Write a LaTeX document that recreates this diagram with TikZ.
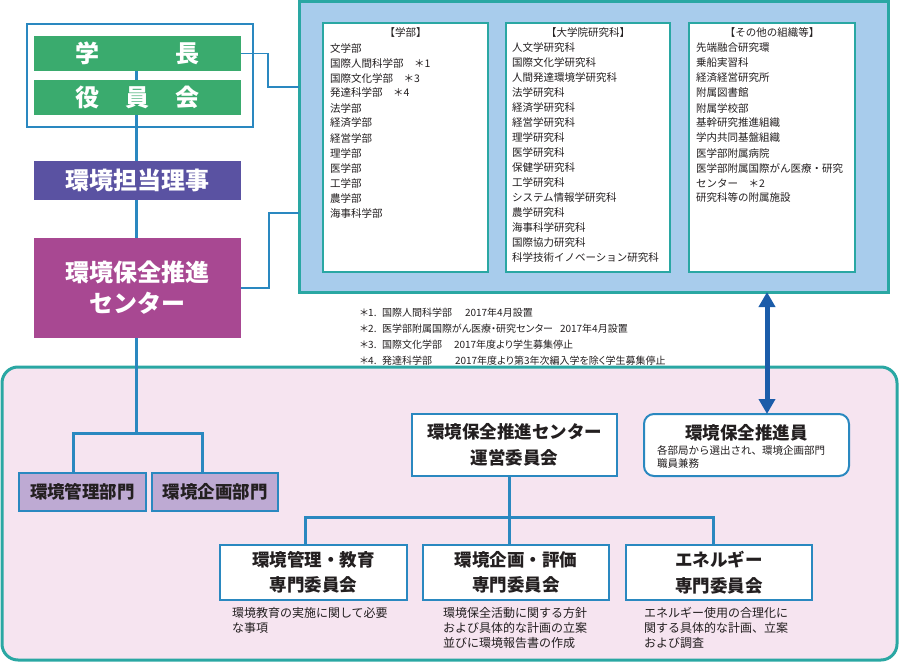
\documentclass[tikz,border=0pt]{standalone}
\usepackage{fontspec}
\setmainfont{Noto Sans CJK JP}
\newfontfamily\jpp{Noto Sans CJK JP}[RawFeature=+palt]
\usetikzlibrary{arrows.meta}
\definecolor{gr}{HTML}{3AAB6E}
\definecolor{pu}{HTML}{5A52A2}
\definecolor{mg}{HTML}{A84892}
\definecolor{lav}{HTML}{BEAAD3}
\definecolor{lb}{HTML}{2A88C0}
\definecolor{tl}{HTML}{2AA7A3}
\definecolor{pan}{HTML}{A8CCEC}
\definecolor{pk}{HTML}{F6E4F0}
\definecolor{ab}{HTML}{1B5CA9}
\definecolor{tx}{HTML}{231F20}
\begin{document}
\begin{tikzpicture}[x=1pt,y=-1pt,
  every node/.style={inner sep=0pt, outer sep=0pt, text=tx},
  trunk/.style={draw=lb, line width=3pt},
  thinline/.style={draw=lb, line width=1.5pt},
  topbox/.style={fill=#1, minimum width=207pt, text=white, align=center, font=\fontsize{24}{31}\selectfont\bfseries},
  colbox/.style={draw=tl, line width=2pt, fill=white, minimum height=249pt},
  colhead/.style={font=\fontsize{10.5}{12}\selectfont},
  item/.style={anchor=west, font=\fontsize{10.5}{12}\selectfont},
  note/.style={anchor=west, font=\jpp\fontsize{10}{12}\selectfont},
  deptbox/.style={draw=lb, line width=2pt, fill=lav, minimum height=38pt, font=\fontsize{17.5}{20}\selectfont\bfseries},
  wbox/.style={draw=lb, line width=2pt, fill=white, align=center, font=\fontsize{17.5}{25.5}\selectfont\bfseries},
  desc/.style={anchor=west, align=left, font=\fontsize{12}{15}\selectfont},
  dblarrow/.style={draw=ab, line width=5pt, >={Triangle[length=15pt,width=16pt]}, <->},
]
\useasboundingbox (0,0) rectangle (900,666);

% background regions
\node[draw=tl, line width=3pt, fill=pk, rounded corners=16pt, minimum width=895pt, minimum height=293pt] (region) at (449.5,513.5) {};
\node[draw=tl, line width=3pt, fill=pan, minimum width=589pt, minimum height=290pt] (panel) at (593.5,147) {};

% columns
\node[colbox, minimum width=165pt] (col1) at (405.5,147.5) {};
\node[colbox, minimum width=164pt] (col2) at (588,147.5) {};
\node[colbox, minimum width=166pt] (col3) at (772,147.5) {};
\node[colhead] (h1) at (405.5,33) {【学部】};
\node[colhead] (h2) at (588,33) {【大学院研究科】};
\node[colhead] (h3) at (772,33) {【その他の組織等】};
\foreach \t [count=\i] in {文学部,国際人間科学部　＊1,国際文化学部　＊3,発達科学部　＊4,法学部,経済学部,経営学部,理学部,医学部,工学部,農学部,海事科学部}
  \node[item] (a\i) at (330,33+15*\i) {\t};
\foreach \t [count=\i] in {人文学研究科,国際文化学研究科,人間発達環境学研究科,法学研究科,経済学研究科,経営学研究科,理学研究科,医学研究科,保健学研究科,工学研究科,システム情報学研究科,農学研究科,海事科学研究科,国際協力研究科,科学技術イノベーション研究科}
  \node[item] (b\i) at (512,33+15*\i) {\t};
\foreach \t [count=\i] in {先端融合研究環,乗船実習科,経済経営研究所,附属図書館,附属学校部,基幹研究推進組織,学内共同基盤組織,医学部附属病院,医学部附属国際がん医療・研究,センター　＊2,研究科等の附属施設}
  \node[item] (c\i) at (696,33+15*\i) {\t};

% notes
\node[note] (n1) at (360,313) {\makebox[22pt][l]{＊1.}\makebox[83pt][l]{国際人間科学部}2017年4月設置};
\node[note] (n2) at (360,329) {\makebox[22pt][l]{＊2.}\makebox[178pt][l]{医学部附属国際がん医療・研究センター}2017年4月設置};
\node[note] (n3) at (360,345) {\makebox[22pt][l]{＊3.}\makebox[72pt][l]{国際文化学部}2017年度より学生募集停止};
\node[note] (n4) at (360,361) {\makebox[22pt][l]{＊4.}\makebox[73pt][l]{発達科学部}2017年度より第3年次編入学を除く学生募集停止};

% top-left hierarchy
\node[draw=lb, line width=1.5pt, minimum width=226pt, minimum height=103pt] (frame) at (140,75.5) {};
\node[topbox=gr, minimum height=35pt] (gakucho) at (137.5,53.5) {学\hspace{76pt}長};
\node[topbox=gr, minimum height=35pt] (yakuin) at (137.5,97.5) {役\hspace{26pt}員\hspace{26pt}会};
\node[topbox=pu, minimum height=39pt] (riji) at (137.5,180.5) {環境担当理事};
\node[topbox=mg, minimum height=100pt] (center) at (137.5,288) {環境保全推進\\センター};

\coordinate (tx) at (136,0);
\coordinate (p1) at (268,87);
\coordinate (p2) at (269,213);
\draw[trunk] (gakucho.south -| tx) -- (yakuin.north -| tx);
\draw[trunk] (yakuin.south -| tx) -- (riji.north -| tx);
\draw[trunk] (riji.south -| tx) -- (center.north -| tx);
\draw[thinline] (gakucho.east) -| (p1) -- (p1 -| panel.west);
\draw[thinline] (center.east) -| (p2) -- (p2 -| panel.west);

% departments
\node[deptbox, minimum width=127pt] (kanri) at (82.5,492) {環境管理部門};
\node[deptbox, minimum width=126pt] (kikaku) at (215,492) {環境企画部門};
\coordinate (b0) at (136,433);
\coordinate (b1) at (73,433);
\coordinate (b3) at (202,433);
\draw[trunk] (center.south -| tx) -- (b0);
\draw[trunk] (kanri.north -| b1) -- (b1) -- (b3) -- (kikaku.north -| b3);

% committees
\node[wbox, minimum width=205pt, minimum height=62pt] (unei) at (514.5,445) {環境保全推進センター\\運営委員会};
\node[wbox, rounded corners=10pt, minimum width=205pt, minimum height=62pt] (suishin) at (746.5,445) {};
\node[font=\fontsize{17.5}{20}\selectfont\bfseries] (suishinT) at (746.5,433) {環境保全推進員};
\node[anchor=west, align=left, font=\fontsize{10.5}{13}\selectfont] (suishinS) at (657,456.5) {各部局から選出され、環境企画部門\\職員兼務};
\node[wbox, minimum width=187pt, minimum height=55pt] (com1) at (313.5,572.5) {環境管理・教育\\専門委員会};
\node[wbox, minimum width=186pt, minimum height=55pt] (com2) at (516,572.5) {環境企画・評価\\専門委員会};
\node[wbox, minimum width=186pt, minimum height=55pt] (com3) at (719,572.5) {エネルギー\\専門委員会};
\node[desc] (d1) at (232,620.5) {環境教育の実施に関して必要\\な事項};
\node[desc] (d2) at (443,628) {環境保全活動に関する方針\\および具体的な計画の立案\\並びに環境報告書の作成};
\node[desc] (d3) at (644,628) {エネルギー使用の合理化に\\関する具体的な計画、立案\\および調査};

\coordinate (u0) at (509,517);
\coordinate (u1) at (305,517);
\coordinate (u2) at (713,517);
\draw[trunk] (unei.south -| u0) -- (com2.north -| u0);
\draw[trunk] (com1.north -| u1) -- (u1) -- (u2) -- (com3.north -| u2);

% arrow between panel and staff
\coordinate (ax) at (767,0);
\draw[dblarrow] (panel.south -| ax) -- (suishin.north -| ax);
\end{tikzpicture}
\end{document}
